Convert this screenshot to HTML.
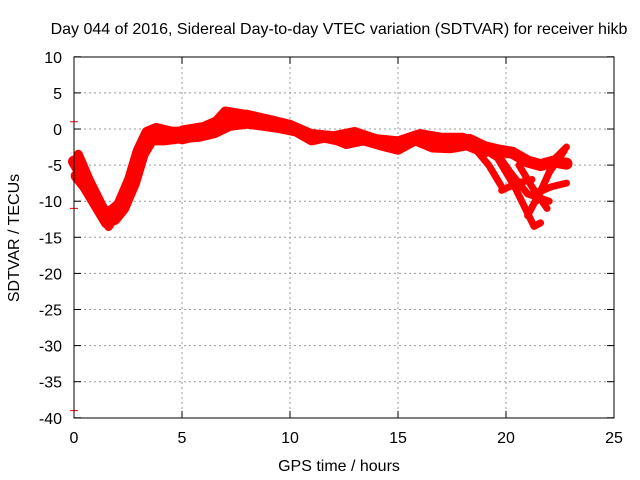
<!DOCTYPE html>
<html><head><meta charset="utf-8"><style>
body{margin:0;background:#fff}
svg{display:block;font-family:"Liberation Sans",sans-serif;font-size:16px}
</style></head><body>
<svg id="chart" width="640" height="480">
<text x="339" y="34" text-anchor="middle">Day 044 of 2016, Sidereal Day-to-day VTEC variation (SDTVAR) for receiver hikb</text>
<text x="339" y="471" text-anchor="middle">GPS time / hours</text>
<text transform="translate(19,238) rotate(-90)" text-anchor="middle">SDTVAR / TECUs</text>
<g id="grid"></g>
<g id="axes"></g>
<g id="marks"></g>
<rect x="74" y="57" width="540" height="361" fill="none" stroke="#000"/>
</svg>
<script>
const xTicks=[0,5,10,15,20,25];
const yTicks=[10,5,0,-5,-10,-15,-20,-25,-30,-35,-40];
const s1x=[0,0.4,0.9,1.4,1.7,2.1,2.6,3.0,3.4,3.8,4.5,5.2,6,6.6,7.1,7.8,8.5,9.2,10,10.8,11.5,12.3,13,13.8,14.6,15.3,16,16.8,17.5,18.3,19,19.7,20.3,21,21.6,22.2,22.8];
const s1y=[-4.5,-6.5,-9,-11.5,-11.5,-10.5,-7,-3,-0.5,0,-0.5,-0.5,0,0.5,2,1.5,1.3,1,0.3,-0.8,-1,-1.5,-0.8,-1.5,-1.8,-2,-1,-1.5,-1.8,-1.5,-2.5,-3,-3.3,-4.5,-5,-4.5,-4.8];
const s2x=[0.1,0.5,1,1.5,1.9,2.3,2.8,3.2,3.6,4.2,5,5.8,6.5,7.2,8,8.8,9.5,10.3,11,11.8,12.6,13.4,14.2,15,15.8,16.6,17.4,18.2,19];
const s2y=[-6.5,-8,-10.5,-13,-12.5,-11,-7.5,-3.5,-1.5,-1.5,-1.2,-1,-0.5,0.5,0.8,0.5,0.2,-0.3,-1.5,-1,-2,-1.5,-2.2,-2.8,-1.5,-2.5,-2.6,-2.2,-3.2];
const s3x=[0.2,0.7,1.2,1.6,2.0,2.5,3.0,3.5,4.2,5,6,7,8,9];
const s3y=[-3.5,-7,-10,-13.5,-11.5,-9,-5,-1.5,-0.8,-1.5,-0.8,2.5,2,1.2];
const s4x=[5,6,7,8,9,10,11,12,13,14,15,16,17,18,18.8];
const s4y=[0,0.5,1.8,2.2,1.5,0.8,-0.5,-0.8,-0.2,-1.2,-1.5,-0.5,-1,-1,-2];
const b1x=[18.8,19.6,20.4,21.3,21.6];const b1y=[-2.5,-4,-8,-13.5,-13];
const b2x=[18.5,19.2,19.8];const b2y=[-2.5,-5,-8];
const b3x=[19.5,20.2,21,22];const b3y=[-3,-6,-9,-10];
const b4x=[21,21.7,22.3,22.8];const b4y=[-12,-8,-4,-2.5];
const b5x=[21.4,22,22.7];const b5y=[-10,-6,-3];
const b6x=[19.8,20.5,21.2];const b6y=[-8.5,-7.5,-7];
const b7x=[21.3,22.1,22.8];const b7y=[-9,-8,-7.5];
const b8x=[20.6,21.2,21.9];const b8y=[-5,-8,-11];
const ptx=[0,0,0];const pty=[1,-11,-39];
const X=v=>74+v*21.6, Y=v=>129-v*7.22;
const NS='http://www.w3.org/2000/svg';
const g=document.getElementById('grid'),ax=document.getElementById('axes'),m=document.getElementById('marks');
function mk(tag,at,par){const e=document.createElementNS(NS,tag);for(const k in at)e.setAttribute(k,at[k]);par.appendChild(e);return e;}
xTicks.forEach(t=>{
 if(t>0&&t<25){const l=mk('line',{x1:X(t),x2:X(t),y1:57,y2:418,stroke:'#999','stroke-dasharray':'2,3'},g);
 
 }
 mk('line',{x1:X(t),x2:X(t),y1:418,y2:411,stroke:'#000'},ax);mk('line',{x1:X(t),x2:X(t),y1:57,y2:64,stroke:'#000'},ax);
 const tx=mk('text',{x:X(t),y:443,'text-anchor':'middle'},ax);tx.textContent=t;
 
 
});
yTicks.forEach(t=>{
 if(t<10&&t>-40){const l=mk('line',{x1:74,x2:614,y1:Y(t),y2:Y(t),stroke:'#999','stroke-dasharray':'2,3'},g);
 
 }
 mk('line',{x1:74,x2:81,y1:Y(t),y2:Y(t),stroke:'#000'},ax);mk('line',{x1:614,x2:607,y1:Y(t),y2:Y(t),stroke:'#000'},ax);
 const tx=mk('text',{x:62,y:Y(t)+6,'text-anchor':'end'},ax);tx.textContent=t;
 
 
});
function series(xs,ys,w,name){
 const p=mk('polyline',{points:xs.map((v,i)=>X(v)+','+Y(ys[i])).join(' '),fill:'none',stroke:'#f00','stroke-width':w,'stroke-linejoin':'round','stroke-linecap':'round'},m);
 
 
}
series(s1x,s1y,12,'series-track-1');series(s2x,s2y,11,'series-track-2');series(s3x,s3y,9,'series-track-3');series(s4x,s4y,7,'series-track-4');
[[b1x,b1y],[b2x,b2y],[b3x,b3y],[b4x,b4y],[b5x,b5y],[b6x,b6y],[b7x,b7y],[b8x,b8y]].forEach((b,i)=>series(b[0],b[1],7,'series-branch-'+(i+1)));
ptx.forEach((v,i)=>{const p=mk('path',{d:`M${X(v)-4},${Y(pty[i])}h8M${X(v)},${Y(pty[i])-3}v6`,stroke:'#f00','stroke-width':1},m);
 
 });
</script>
</body></html>
